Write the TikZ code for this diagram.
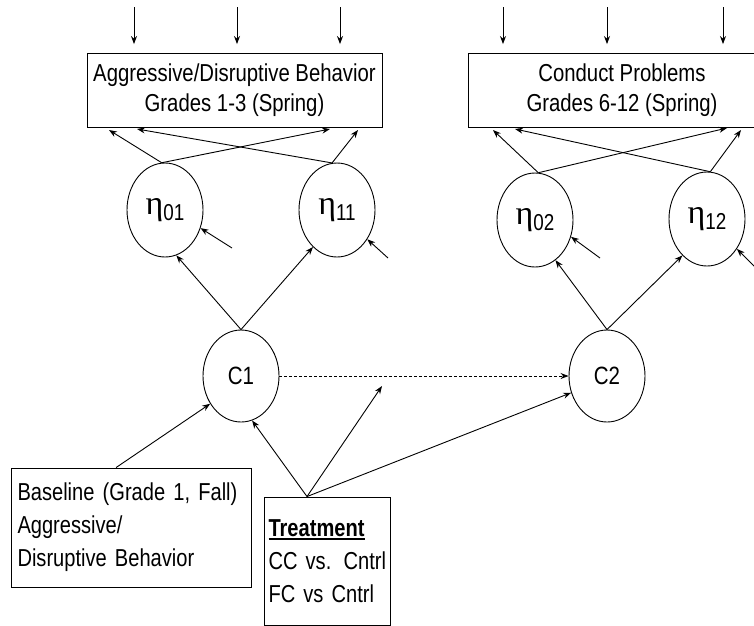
\documentclass[tikz,border=0pt]{standalone}
\usepackage{fontspec}
\setmainfont{Liberation Sans}[FakeStretch=0.82]
\newfontfamily\topfont{Liberation Sans}[FakeStretch=0.83]
\newfontfamily\etafont{Liberation Serif}
\usetikzlibrary{shapes.geometric,arrows.meta}
\newcommand\etalab[1]{{\etafont\fontsize{34}{34}\selectfont η}\raisebox{-6pt}{\fontsize{23}{23}\selectfont #1}}
\newcommand\thickul[1]{\setbox0\hbox{#1}\rlap{\rule[-4pt]{\wd0}{2.6pt}}\box0}
\begin{document}
\begin{tikzpicture}[x=1pt,y=-1pt,
  every node/.style={font=\fontsize{25}{27}\selectfont},
  latent/.style={draw,ellipse,line width=0.9pt,minimum width=76pt,minimum height=94pt,inner sep=0pt},
  cvar/.style={draw,ellipse,line width=0.9pt,minimum width=76pt,minimum height=92pt,inner sep=0pt},
  obsbox/.style={draw,rectangle,line width=0.9pt,inner sep=0pt,align=center,
    font=\topfont\fontsize{24.5}{30}\selectfont},
  covbox/.style={draw,rectangle,line width=0.9pt,align=left,
    font=\fontsize{24.5}{33}\selectfont},
  arr/.style={line width=0.9pt,-{Stealth[length=8pt,width=6pt]}},
  darr/.style={arr,dashed,dash pattern=on 3pt off 2pt}]
\useasboundingbox (0,0) rectangle (754,625);
\clip (0,0) rectangle (754,625);
% observed boxes
\node[obsbox,minimum width=295pt,minimum height=74pt] (box1) at (234.5,90.5)
  {Aggressive/Disruptive Behavior\\Grades 1-3 (Spring)};
\node[obsbox,minimum width=308pt,minimum height=74pt] (box2) at (622,90.5)
  {Conduct Problems\\Grades 6-12 (Spring)};
% latent growth factors
\node[latent] (e01) at (165,210) {\etalab{01}};
\node[latent] (e11) at (337,210) {\etalab{11}};
\node[latent] (e02) at (535,220) {\etalab{02}};
\node[latent] (e12) at (707,219) {\etalab{12}};
% classes
\node[cvar] (C1) at (241,376) {C1};
\node[cvar] (C2) at (607,376) {C2};
% covariate boxes
\node[covbox,minimum width=240pt,minimum height=119pt,text width=228pt,inner sep=6pt] (base) at (131.5,527.5)
  {Baseline (Grade 1, Fall)\\Aggressive/\\Disruptive Behavior};
\node[covbox,minimum width=123pt,minimum height=128pt,text width=118pt,inner sep=4pt] (treat) at (327.5,561)
  {{\bfseries\thickul{Treatment}}\\CC vs. Cntrl\\FC vs Cntrl};
% residual arrows into boxes (free starts)
\foreach \n/\x/\b in {t1/134/box1,t2/237/box1,t3/340/box1,t4/503/box2,t5/607/box2,t6/723/box2}{
  \coordinate (\n) at (\x,7);
  \draw[arr,shorten >=9pt] (\n) -- (\n |- \b.north);
}
% tips on bottom of boxes
\coordinate (b1a) at (109,130);
\coordinate (b1b) at (137,129);
\coordinate (b1c) at (330,129);
\coordinate (b1d) at (358,130);
\coordinate (b2a) at (493,130);
\coordinate (b2b) at (515,129);
\coordinate (b2c) at (727,128);
\coordinate (b2d) at (741,130);
\draw[arr] (e01.94) -- (b1a);
\draw[arr] (e01.94) -- (b1c);
\draw[arr] (e11.96) -- (b1b);
\draw[arr] (e11.96) -- (b1d);
\draw[arr] (e02.86) -- (b2a);
\draw[arr] (e02.86) -- (b2c);
\draw[arr] (e12.86) -- (b2b);
\draw[arr] (e12.86) -- (b2d);
% residual arrows into eta factors
\coordinate (r1) at (232,248);
\coordinate (r2) at (388,258);
\coordinate (r3) at (600,258);
\coordinate (r4) at (760,272);
\draw[arr] (r1) -- (e01.-27);
\draw[arr] (r2) -- (e11.-44);
\draw[arr] (r3) -- (e02.-25);
\draw[arr] (r4) -- (e12.-45);
% class to factors
\draw[arr] (C1.north) -- (e01.-76);
\draw[arr] (C1.north) -- (e11.-123);
\draw[arr] (C2.north) -- (e02.-63);
\draw[arr] (C2.north) -- (e12.-124);
% class to class
\draw[darr] (C1.east) -- (C2.west);
% covariates
\coordinate (bs) at ([xshift=105pt]base.north west);
\draw[arr] (bs) -- (C1.-138);
\coordinate (ts) at (treat.north -| 307,0);
\coordinate (mid) at (382,386);
\draw[arr] (ts) -- (C1.-76);
\draw[arr] (ts) -- (mid);
\draw[arr] (ts) -- (C2.-155);
\end{tikzpicture}
\end{document}
